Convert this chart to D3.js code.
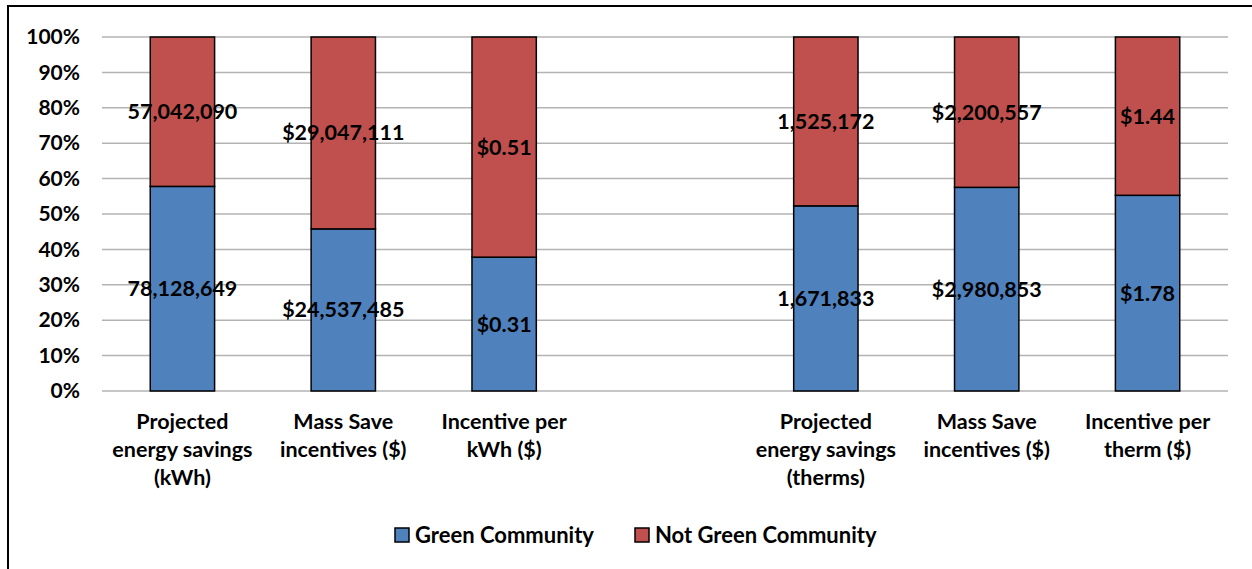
<!DOCTYPE html>
<html>
<head>
<meta charset="utf-8">
<script src="https://cdn.jsdelivr.net/npm/d3@7"></script>
<style>
  body { margin: 0; background: #fff; }
  svg { font-family: Lato, "Open Sans", sans-serif; font-weight: 700; }
</style>
</head>
<body>
<div id="chart"></div>
<script>
// Chart data
const categories = [
  ["Projected", "energy savings", "(kWh)"],
  ["Mass Save", "incentives ($)"],
  ["Incentive per", "kWh ($)"],
  [],
  ["Projected", "energy savings", "(therms)"],
  ["Mass Save", "incentives ($)"],
  ["Incentive per", "therm ($)"]
];
const greenValues = [78128649, 24537485, 0.31, null, 1671833, 2980853, 1.78];
const notGreenValues = [57042090, 29047111, 0.51, null, 1525172, 2200557, 1.44];
const greenLabels = ["78,128,649", "$24,537,485", "$0.31", "", "1,671,833", "$2,980,853", "$1.78"];
const notGreenLabels = ["57,042,090", "$29,047,111", "$0.51", "", "1,525,172", "$2,200,557", "$1.44"];
const seriesNames = ["Green Community", "Not Green Community"];
const colors = ["#4F81BD", "#C0504D"];
const yTicks = [0, 0.1, 0.2, 0.3, 0.4, 0.5, 0.6, 0.7, 0.8, 0.9, 1];

const W = 1252, H = 569;
const margin = { top: 37, right: 24, bottom: 178, left: 102 };
const width = W - margin.left - margin.right;
const height = H - margin.top - margin.bottom;

const svg = d3.select("#chart").append("svg")
  .attr("width", W).attr("height", H);

// outer border
svg.append("rect")
  .attr("x", 8).attr("y", 6)
  .attr("width", W + 10).attr("height", H + 10)
  .attr("fill", "none").attr("stroke", "#000").attr("stroke-width", 2);

const g = svg.append("g").attr("transform", `translate(${margin.left},${margin.top})`);

const idx = categories.map((d, i) => i);
const x = d3.scaleBand().domain(idx).range([0, width]).paddingInner(0.6).paddingOuter(0.3);
const y = d3.scaleLinear().domain([0, 1]).range([height, 0]);

// gridlines
g.selectAll(".grid").data(yTicks).join("line")
  .attr("x1", 0).attr("x2", width)
  .attr("y1", d => y(d)).attr("y2", d => y(d))
  .attr("stroke", "#b3b3b3").attr("stroke-width", 1.5);

// y axis labels
const yAxis = g.append("g").call(d3.axisLeft(y).tickValues(yTicks).tickFormat(d3.format(".0%")).tickSize(0).tickPadding(22));
yAxis.select(".domain").remove();
yAxis.selectAll("text").attr("font-size", 21).attr("font-family", "Lato, sans-serif").attr("font-weight", 700).attr("fill", "#000");

// stacked shares
const rows = idx.filter(i => greenValues[i] != null).map(i => {
  const total = greenValues[i] + notGreenValues[i];
  const gs = greenValues[i] / total;
  return { i, gs, gl: greenLabels[i], nl: notGreenLabels[i] };
});

const bars = g.selectAll(".cat").data(rows).join("g");
bars.append("rect")
  .attr("x", d => x(d.i)).attr("width", x.bandwidth())
  .attr("y", d => y(d.gs)).attr("height", d => y(0) - y(d.gs))
  .attr("fill", colors[0]).attr("stroke", "#000").attr("stroke-width", 1.5);
bars.append("rect")
  .attr("x", d => x(d.i)).attr("width", x.bandwidth())
  .attr("y", y(1)).attr("height", d => y(d.gs) - y(1))
  .attr("fill", colors[1]).attr("stroke", "#000").attr("stroke-width", 1.5);

// data labels
bars.append("text")
  .attr("x", d => x(d.i) + x.bandwidth() / 2)
  .attr("y", d => (y(0) + y(d.gs)) / 2)
  .attr("dy", "0.35em").attr("text-anchor", "middle")
  .attr("font-size", 21.5).text(d => d.gl);
bars.append("text")
  .attr("x", d => x(d.i) + x.bandwidth() / 2)
  .attr("y", d => (y(1) + y(d.gs)) / 2)
  .attr("dy", "0.35em").attr("text-anchor", "middle")
  .attr("font-size", 21.5).text(d => d.nl);

// category labels
const cl = g.selectAll(".clab").data(idx).join("text")
  .attr("text-anchor", "middle").attr("font-size", 21.5)
  .attr("x", i => x(i) + x.bandwidth() / 2)
  .attr("y", height + 38);
cl.selectAll("tspan").data(i => categories[i]).join("tspan")
  .attr("x", function () { return d3.select(this.parentNode).attr("x"); })
  .attr("dy", (d, k) => k === 0 ? 0 : 28)
  .text(d => d);

// legend
const legendX = [395, 635];
const lg = svg.selectAll(".leg").data(seriesNames).join("g")
  .attr("transform", (d, k) => `translate(${legendX[k]},528)`);
lg.append("rect").attr("width", 14).attr("height", 14)
  .attr("fill", (d, k) => colors[k]).attr("stroke", "#000").attr("stroke-width", 1.5);
lg.append("text").attr("x", 20).attr("y", 7).attr("dy", "0.35em")
  .attr("font-size", 22).text(d => d);
</script>
</body>
</html>
